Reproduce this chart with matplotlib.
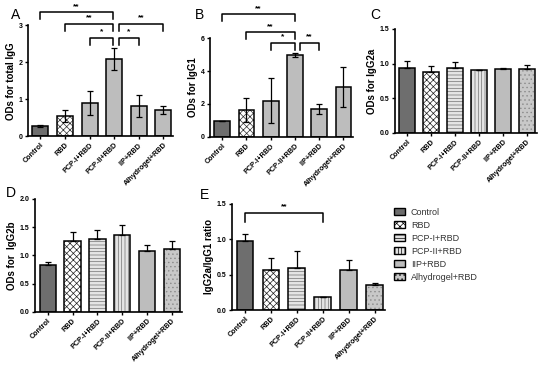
import numpy as np
import matplotlib.pyplot as plt
from matplotlib.patches import Patch

plt.rcParams['font.family'] = ['Liberation Sans', 'DejaVu Sans']
plt.rcParams['hatch.linewidth'] = 0.5

groups = ["Control", "RBD", "PCP-I+RBD", "PCP-II+RBD", "IIP+RBD", "Alhydrogel+RBD"]

total_igg = [0.28, 0.55, 0.89, 2.09, 0.82, 0.71]
total_igg_err = [0.03, 0.17, 0.33, 0.30, 0.29, 0.10]
igg1 = [0.96, 1.63, 2.20, 4.98, 1.69, 3.05]
igg1_err = [0.02, 0.75, 1.35, 0.10, 0.29, 1.22]
igg2a = [0.94, 0.88, 0.94, 0.90, 0.925, 0.915]
igg2a_err = [0.09, 0.09, 0.08, 0.005, 0.015, 0.065]
igg2b = [0.83, 1.25, 1.28, 1.35, 1.08, 1.11]
igg2b_err = [0.05, 0.16, 0.17, 0.18, 0.10, 0.14]
ratio = [0.98, 0.56, 0.59, 0.18, 0.56, 0.35]
ratio_err = [0.09, 0.17, 0.24, 0.005, 0.14, 0.03]

# plain fills for A/B, hatched styles for C/D/E
plain = [dict(fc="#6e6e6e", hatch=None, hc="black"), dict(fc="white", hatch="xxxxx", hc="#303030"),
         dict(fc="#bdbdbd", hatch=None, hc="black"), dict(fc="#bdbdbd", hatch=None, hc="black"),
         dict(fc="#bdbdbd", hatch=None, hc="black"), dict(fc="#bdbdbd", hatch=None, hc="black")]
hatched = [dict(fc="#6e6e6e", hatch=None, hc="black"), dict(fc="white", hatch="xxxxx", hc="#202020"),
           dict(fc="#e4e4e4", hatch="-----", hc="#707070"), dict(fc="#e4e4e4", hatch="|||||", hc="#707070"),
           dict(fc="#bdbdbd", hatch=None, hc="black"), dict(fc="#c8c8c8", hatch="....", hc="#8a8a8a")]

fig = plt.figure(figsize=(5.5, 3.66), dpi=100)


def panel(rect, vals, errs, styles, ylim, yticks, ylabel, letter, lpos, both=True, fmt="%g"):
    ax = fig.add_axes(rect)
    x = np.arange(len(vals))
    for i in range(len(vals)):
        st = styles[i]
        # fill + hatch in hatch colour, then a black outline on top
        ax.bar(x[i], vals[i], width=0.65, color=st["fc"], hatch=st["hatch"],
               edgecolor=st["hc"], linewidth=0, zorder=2)
        ax.bar(x[i], vals[i], width=0.65, fill=False, edgecolor="black",
               linewidth=1.1, zorder=2.5)
    lower = errs if both else [0] * len(errs)
    ax.errorbar(x, vals, yerr=[lower, errs], fmt="none", ecolor="black",
                elinewidth=0.9, capsize=2.5, capthick=0.9, zorder=3)
    ax.set_xlim(-0.5, 5.4)
    ax.set_ylim(*ylim)
    ax.set_yticks(yticks)
    ax.set_yticklabels([fmt % t for t in yticks], fontsize=5, fontweight="bold")
    ax.set_xticks(x)
    ax.set_xticklabels(groups, rotation=45, ha="right", rotation_mode="anchor",
                       fontsize=5.2, fontweight="bold")
    ax.tick_params(length=2.5, width=1, pad=1.5)
    for s in ["top", "right"]:
        ax.spines[s].set_visible(False)
    for s in ["left", "bottom"]:
        ax.spines[s].set_linewidth(1.2)
    ax.set_ylabel(ylabel, fontsize=7, fontweight="bold", labelpad=2)
    fig.text(lpos[0] / 550, 1 - lpos[1] / 366, letter, fontsize=10, va="center", ha="left")
    return ax


def bracket(ax, x1, x2, y, drop, label):
    ax.plot([x1, x1, x2, x2], [y - drop, y, y, y - drop], color="black", lw=1.1, clip_on=False)
    ax.text((x1 + x2) / 2, y + drop * 0.35, label, ha="center", va="bottom",
            fontsize=6, fontweight="bold", clip_on=False)


axA = panel([0.051, 0.628, 0.264, 0.303], total_igg, total_igg_err, plain,
            (0, 3), [0, 1, 2, 3], "ODs for total IgG", "A", (11, 15))
bracket(axA, 0, 2.95, 3.35, 0.19, "**")
bracket(axA, 1, 2.95, 3.03, 0.19, "**")
bracket(axA, 2, 2.95, 2.65, 0.19, "*")
bracket(axA, 3.2, 4, 2.65, 0.19, "*")
bracket(axA, 3.2, 5, 3.03, 0.19, "**")

axB = panel([0.382, 0.626, 0.26, 0.27], igg1, igg1_err, plain,
            (0, 6), [0, 2, 4, 6], "ODs for IgG1", "B", (195, 15))
bracket(axB, 0, 3, 7.45, 0.4, "**")
bracket(axB, 1, 3, 6.36, 0.4, "**")
bracket(axB, 2, 3, 5.7, 0.4, "*")
bracket(axB, 3.2, 4, 5.7, 0.4, "**")

panel([0.718, 0.637, 0.258, 0.284], igg2a, igg2a_err, hatched,
      (0, 1.5), [0, 0.5, 1.0, 1.5], "ODs for IgG2a", "C", (370, 15), both=False, fmt="%.1f")

panel([0.064, 0.148, 0.267, 0.309], igg2b, igg2b_err, hatched,
      (0, 2.0), [0, 0.5, 1.0, 1.5, 2.0], "ODs for  IgG2b", "D", (6, 193), both=False, fmt="%.1f")

axE = panel([0.422, 0.153, 0.278, 0.29], ratio, ratio_err, hatched,
            (0, 1.5), [0, 0.5, 1.0, 1.5], "IgG2a/IgG1 ratio", "E", (200, 195), both=False, fmt="%.1f")
bracket(axE, 0, 3, 1.37, 0.12, "**")

handles = [Patch(facecolor=s["fc"], hatch=s["hatch"], edgecolor="black", linewidth=1.0)
           for s in hatched]
leg = fig.legend(handles, groups, loc="upper left", bbox_to_anchor=(390 / 550, 1 - 204 / 366),
                 frameon=False, fontsize=6.5, handlelength=1.3, handleheight=0.8,
                 labelspacing=0.45, handletextpad=0.6, borderaxespad=0)
for t in leg.get_texts():
    t.set_color("#333333")

fig.savefig("out.png", dpi=100)
plt.close(fig)
